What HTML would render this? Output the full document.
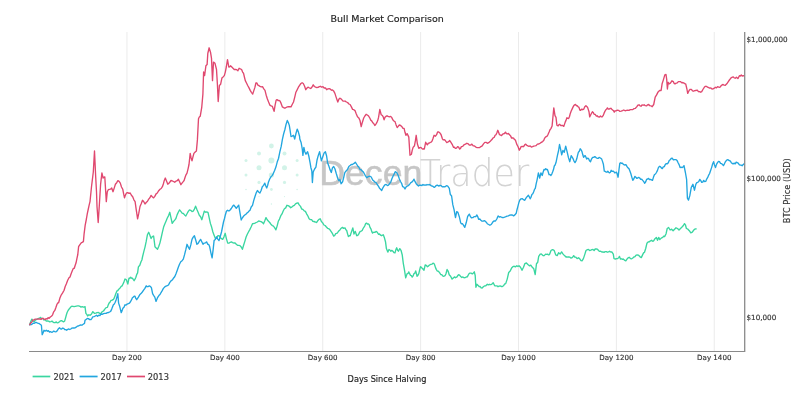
<!DOCTYPE html>
<html><head><meta charset="utf-8"><title>Bull Market Comparison</title>
<style>
html,body{margin:0;padding:0;background:#fff;}
body{width:800px;height:406px;overflow:hidden;}
svg{display:block;filter:blur(0.45px);}
</style></head><body>
<svg width="800" height="406" viewBox="0 0 800 406">
<rect width="800" height="406" fill="#fff"/>
<line x1="126.98" y1="32" x2="126.98" y2="351" stroke="#ebebeb" stroke-width="1"/>
<line x1="224.86" y1="32" x2="224.86" y2="351" stroke="#ebebeb" stroke-width="1"/>
<line x1="322.74" y1="32" x2="322.74" y2="351" stroke="#ebebeb" stroke-width="1"/>
<line x1="420.62" y1="32" x2="420.62" y2="351" stroke="#ebebeb" stroke-width="1"/>
<line x1="518.50" y1="32" x2="518.50" y2="351" stroke="#ebebeb" stroke-width="1"/>
<line x1="616.38" y1="32" x2="616.38" y2="351" stroke="#ebebeb" stroke-width="1"/>
<line x1="714.26" y1="32" x2="714.26" y2="351" stroke="#ebebeb" stroke-width="1"/>
<circle cx="271.4" cy="146" r="2.4" fill="#d2f3e8"/>
<circle cx="259" cy="153.6" r="2.0" fill="#d2f3e8"/>
<circle cx="284.5" cy="153.6" r="2.0" fill="#d2f3e8"/>
<circle cx="246" cy="160.6" r="1.5" fill="#d2f3e8"/>
<circle cx="271.4" cy="160.6" r="3.0" fill="#d2f3e8"/>
<circle cx="297.1" cy="160.6" r="1.5" fill="#d2f3e8"/>
<circle cx="259" cy="167.8" r="2.5" fill="#d2f3e8"/>
<circle cx="284.5" cy="167.8" r="2.5" fill="#d2f3e8"/>
<circle cx="246" cy="175" r="1.5" fill="#d2f3e8"/>
<circle cx="271.4" cy="175" r="2.6" fill="#d2f3e8"/>
<circle cx="297.1" cy="175" r="1.5" fill="#d2f3e8"/>
<circle cx="259" cy="182.4" r="1.6" fill="#d2f3e8"/>
<circle cx="284.5" cy="182.4" r="1.6" fill="#d2f3e8"/>
<circle cx="246" cy="189.5" r="0.8" fill="#d2f3e8"/>
<circle cx="271.4" cy="189.5" r="1.4" fill="#d2f3e8"/>
<circle cx="297.1" cy="189.5" r="0.8" fill="#d2f3e8"/>
<circle cx="259" cy="196.6" r="0.6" fill="#d2f3e8"/>
<circle cx="284.5" cy="196.6" r="0.6" fill="#d2f3e8"/>
<circle cx="271.4" cy="204" r="0.7" fill="#d2f3e8"/>
<text x="319.3" y="184.6" font-family="Liberation Sans, sans-serif" font-size="35" textLength="103" lengthAdjust="spacingAndGlyphs" stroke="#c6c6c6" stroke-width="0.5" fill="#c6c6c6">Decen</text>
<text x="419.8" y="186" font-family="DejaVu Sans, sans-serif" font-weight="200" font-size="37" textLength="109.5" lengthAdjust="spacingAndGlyphs" fill="#d3d3d3">Trader</text>
<polyline points="29.5,325.2 30.7,321.6 31.9,319.1 32.8,321.0 33.6,321.7 34.6,321.4 35.5,319.8 36.5,319.5 37.5,319.0 38.5,318.4 39.5,318.2 40.5,317.4 41.7,318.7 42.8,318.5 44.0,320.0 45.1,319.5 46.3,321.1 47.4,320.9 48.6,321.1 49.7,321.9 50.9,321.7 52.0,321.1 53.0,322.1 54.1,322.7 55.2,322.6 56.3,321.9 57.4,322.9 58.4,322.6 59.5,321.7 60.5,320.8 61.6,320.6 62.6,321.3 63.7,321.8 64.7,320.9 65.6,317.7 66.4,314.8 67.2,312.2 68.1,310.5 69.4,308.7 70.7,307.1 71.8,306.2 73.0,306.3 74.1,306.6 75.3,306.3 76.4,306.1 77.6,305.9 78.7,305.9 79.9,306.3 81.0,307.1 82.2,306.7 83.3,307.0 84.5,307.1 85.0,306.6 85.9,313.4 86.8,314.4 87.6,316.0 88.9,314.8 90.2,315.2 91.5,314.0 92.8,311.7 93.7,312.6 94.5,313.4 95.8,313.2 97.1,312.6 98.4,312.5 99.7,313.4 101.0,313.3 102.2,311.7 103.5,311.0 104.8,309.1 106.1,307.6 107.4,307.4 108.2,305.0 109.1,303.1 110.0,302.2 110.9,300.5 111.8,300.4 112.6,299.7 113.4,299.5 114.3,297.9 115.6,294.3 116.9,291.0 117.8,290.7 118.6,289.3 119.4,288.7 120.3,287.6 121.2,286.4 122.1,285.9 122.9,284.3 123.8,282.4 125.0,279.0 126.4,279.8 127.8,284.1 129.0,278.1 129.8,278.3 130.7,277.2 131.6,278.2 132.4,278.1 133.2,279.4 134.1,280.7 135.0,279.1 135.9,277.2 136.8,274.3 137.6,272.9 138.4,266.9 139.8,265.2 141.0,261.7 141.9,260.0 142.5,257.0 143.8,251.6 145.0,247.1 146.2,241.4 147.4,234.8 148.7,232.3 149.9,235.3 151.1,238.5 152.3,236.7 153.6,236.0 155.0,246.8 156.2,248.1 157.5,249.3 158.7,246.5 159.9,243.1 161.1,238.0 162.4,232.2 163.6,227.1 164.8,223.9 166.1,220.9 167.3,218.0 168.6,215.6 169.8,212.3 171.0,217.9 172.2,223.4 173.4,221.6 174.7,220.1 175.9,218.5 177.1,214.9 178.4,212.0 179.6,209.9 180.8,211.4 182.1,213.1 183.3,213.5 184.6,214.9 185.8,216.0 187.0,213.8 188.3,211.4 189.5,209.9 190.7,210.3 192.0,211.5 193.2,211.1 194.4,209.1 195.6,206.2 196.8,209.3 198.1,212.3 199.3,215.3 200.6,216.8 201.8,219.7 203.1,215.4 204.3,211.1 205.5,212.2 206.8,212.0 208.0,212.3 209.2,217.8 210.4,223.4 211.7,227.3 212.9,232.0 214.1,235.2 215.3,238.2 216.5,238.1 217.8,235.7 219.0,235.7 220.2,237.4 221.5,238.7 222.7,239.4 223.9,237.0 225.2,233.3 226.4,238.6 227.7,243.1 228.9,243.2 230.2,242.3 231.4,241.9 232.6,242.6 233.9,243.0 235.1,243.0 236.3,244.3 237.5,245.3 238.8,245.3 240.0,245.6 241.2,247.0 242.4,249.3 243.6,245.2 244.9,241.1 246.1,237.0 247.3,234.3 248.6,231.8 249.8,229.6 251.2,226.7 252.5,223.7 253.7,223.5 255.0,223.1 256.2,222.5 257.4,222.0 258.7,220.9 259.9,221.3 261.1,221.7 262.3,222.4 263.5,223.7 264.8,220.8 266.0,217.6 267.2,219.8 268.5,221.3 269.7,222.5 270.9,224.2 272.2,225.5 273.4,226.2 274.6,227.7 275.9,229.9 277.1,226.1 278.3,221.3 279.5,219.1 280.8,215.7 282.0,213.9 283.2,211.0 284.4,208.8 285.7,207.9 286.9,205.3 288.1,205.7 289.4,206.3 290.6,207.7 291.8,207.1 293.1,205.9 294.3,205.3 295.5,203.8 296.8,203.1 298.0,202.8 299.2,204.9 300.5,206.4 301.7,209.0 302.9,209.4 304.2,210.9 305.4,211.4 306.6,213.8 307.9,216.0 309.1,218.8 310.3,219.6 311.6,219.7 312.8,221.3 314.0,221.5 315.3,222.0 316.5,222.5 317.7,220.8 319.0,219.4 320.2,218.8 321.4,221.5 322.7,222.9 323.9,225.0 325.1,225.5 326.4,227.0 327.6,228.3 328.8,228.7 330.0,229.8 331.2,231.6 332.5,233.7 333.7,236.1 334.7,235.5 335.7,233.6 336.7,233.4 337.7,232.4 338.7,231.1 339.9,229.9 341.2,228.2 342.4,227.4 343.7,228.4 345.0,227.9 345.9,229.7 346.7,230.5 347.5,233.6 348.4,236.6 349.3,235.7 350.2,235.7 351.6,231.4 352.8,227.9 354.0,234.0 355.3,231.4 356.7,235.7 357.5,235.5 358.4,234.8 359.3,232.9 360.2,231.4 361.2,231.1 362.2,230.5 363.1,228.5 364.0,227.1 364.9,225.6 365.7,223.6 366.5,223.1 367.4,224.0 368.2,223.9 369.1,224.5 370.0,227.4 370.9,228.8 371.8,231.6 372.6,233.1 373.5,232.3 374.3,232.2 375.1,232.4 376.0,231.4 376.9,231.9 377.8,233.1 378.6,234.3 379.5,234.0 380.6,235.2 381.6,235.7 382.5,235.1 383.3,234.8 384.3,237.4 385.5,241.7 386.4,248.6 387.8,252.1 389.0,249.5 389.9,250.0 390.7,251.2 391.8,250.4 392.9,251.2 393.9,252.7 395.0,252.9 395.9,249.6 396.7,247.8 397.5,250.0 398.4,251.2 399.8,248.6 401.0,250.3 402.2,254.7 403.3,263.3 404.5,270.2 405.7,277.9 407.1,273.6 408.0,273.5 408.8,271.9 409.6,273.7 410.5,275.3 411.4,275.7 412.2,277.1 413.1,275.9 414.0,273.6 414.9,273.1 415.7,271.0 417.1,276.2 418.0,275.2 418.8,273.6 419.6,270.2 420.5,266.7 421.4,267.4 422.2,268.4 423.1,269.1 424.0,270.2 425.2,265.0 426.3,265.4 427.4,266.7 428.4,266.1 429.5,265.0 430.8,264.4 432.1,264.1 433.0,263.2 433.8,263.3 434.6,264.8 435.5,267.6 436.4,269.6 437.2,271.0 438.1,271.1 439.0,271.9 439.9,273.2 440.7,274.5 441.5,274.6 442.4,275.3 443.2,276.3 444.1,276.2 445.0,275.7 445.9,274.0 447.1,269.5 448.1,271.0 449.2,274.7 450.6,276.2 452.1,279.1 453.6,277.7 454.6,276.9 455.5,277.7 457.0,276.9 457.9,275.3 458.9,274.7 459.8,275.4 460.7,276.6 461.8,277.5 462.9,276.9 464.0,277.8 465.1,277.7 466.2,277.0 467.3,276.9 468.8,274.0 469.9,273.1 471.0,273.2 471.9,273.7 472.8,273.7 474.3,271.8 475.2,275.5 475.9,287.3 476.9,284.3 478.4,285.8 479.3,286.7 480.2,286.5 481.1,287.9 482.1,288.0 483.6,286.5 484.7,285.9 485.8,285.8 487.3,284.3 488.4,284.9 489.5,284.3 490.6,284.6 491.7,284.3 493.2,282.8 494.7,285.8 495.8,285.8 496.9,285.8 498.0,286.7 499.1,286.1 500.2,285.9 501.3,286.5 502.4,286.5 503.5,285.8 504.6,284.0 505.7,283.6 507.2,279.1 508.7,272.5 510.2,271.0 511.6,268.1 513.1,266.6 514.2,266.2 515.3,266.9 516.8,265.8 517.9,266.5 519.0,265.8 520.5,267.3 522.0,270.3 523.5,267.3 524.9,263.6 526.4,262.9 527.9,264.4 529.4,265.8 530.8,265.1 532.3,267.3 533.8,268.8 535.2,274.5 536.5,263.7 537.7,262.3 538.7,256.4 540.2,254.1 541.3,254.0 542.4,254.9 543.3,255.7 544.2,255.6 545.6,254.1 546.6,254.3 547.6,254.1 548.5,254.9 549.5,254.6 551.0,250.5 552.4,249.7 553.3,249.9 554.2,250.5 555.7,254.9 557.2,255.6 558.6,252.7 560.1,254.1 561.6,251.9 563.1,254.1 564.5,255.6 566.0,257.1 566.9,256.8 567.8,257.1 568.8,256.8 569.7,257.1 570.8,258.0 571.9,257.8 572.8,256.9 573.7,255.6 574.7,257.1 575.6,257.1 577.1,258.6 578.6,257.8 580.1,259.3 581.0,260.7 582.0,260.8 583.4,258.6 584.9,254.1 586.0,250.5 587.4,249.7 588.5,249.5 589.7,250.5 590.8,250.2 591.9,249.7 593.0,249.5 594.1,250.5 595.2,249.0 596.3,249.0 597.4,249.1 598.5,250.5 599.6,251.4 600.7,251.2 601.8,252.0 602.9,251.9 604.0,252.3 605.2,251.6 606.3,251.6 607.4,252.2 608.5,251.9 609.6,251.2 610.7,252.0 611.8,251.9 613.3,254.1 614.0,258.6 615.5,259.0 616.6,258.6 617.7,258.6 618.6,257.6 619.5,256.4 620.4,259.0 621.2,258.7 622.1,259.3 623.2,259.0 624.4,260.1 625.8,260.8 627.2,258.8 628.3,257.7 629.4,257.3 630.5,258.7 631.7,258.8 632.8,258.0 633.9,257.0 635.0,256.7 636.1,255.1 637.2,255.0 638.3,255.1 639.8,256.6 641.3,257.6 642.8,254.4 643.6,252.9 644.5,252.2 645.7,248.5 646.9,243.3 648.4,241.8 649.2,241.9 650.1,241.1 651.6,240.3 652.5,241.2 653.4,241.1 654.9,238.8 656.4,237.4 657.5,240.3 658.7,237.4 659.8,239.6 661.2,238.1 662.7,237.4 663.7,236.2 664.6,236.6 666.1,233.7 667.2,228.5 668.6,227.5 670.1,230.0 671.6,229.2 673.1,230.7 674.6,229.2 676.0,227.8 677.5,228.5 679.0,230.0 680.5,228.5 682.0,227.0 683.4,225.5 684.5,223.6 685.4,224.8 686.4,228.5 687.9,229.2 689.3,230.7 690.8,232.9 692.3,232.2 693.8,230.0 695.3,228.9 696.7,228.9" fill="none" stroke="#3ad6a0" stroke-width="1.35" stroke-linejoin="round"/>
<polyline points="29.5,325.2 30.6,324.0 31.7,324.6 32.8,323.4 34.0,323.4 35.3,322.6 36.5,322.5 37.6,323.1 38.8,323.4 40.1,324.2 41.4,325.2 42.2,334.7 43.1,332.7 44.0,330.3 45.1,331.1 46.3,330.3 47.4,331.2 48.4,330.6 49.5,332.1 50.5,331.6 51.6,332.3 52.6,332.1 53.7,331.1 54.8,331.6 55.8,331.8 56.9,331.2 58.2,329.1 59.5,327.8 60.5,328.9 61.6,329.1 62.6,328.1 63.7,328.4 64.7,329.5 65.7,329.6 66.7,330.2 67.8,329.3 68.8,329.0 69.8,329.5 70.8,329.0 71.9,328.1 72.9,328.0 74.0,328.0 75.0,327.8 76.1,327.2 77.3,326.2 78.4,326.0 79.6,325.3 80.7,325.0 81.9,325.2 83.2,324.2 84.5,323.4 85.0,320.3 86.1,319.4 87.3,318.4 88.4,318.6 89.7,319.6 91.0,319.5 91.9,318.3 92.8,316.9 94.0,316.7 95.3,316.0 96.5,315.2 97.6,316.3 98.8,315.2 99.9,315.5 101.1,314.0 102.2,314.3 103.5,313.6 104.8,313.4 106.1,313.4 107.4,312.6 108.7,312.5 110.0,311.7 110.8,311.1 111.7,309.1 112.6,306.8 113.4,304.8 114.3,304.0 115.2,302.2 116.1,299.9 116.9,297.1 117.8,293.6 118.6,303.1 119.5,305.7 120.3,308.8 121.2,312.6 122.1,310.6 122.9,308.3 124.0,307.2 125.0,304.8 126.1,305.0 127.2,304.0 128.3,303.6 129.5,303.1 130.6,301.5 131.6,299.7 132.4,297.7 133.3,297.1 134.2,296.2 135.0,296.2 135.8,298.4 136.7,299.7 137.6,298.3 138.4,297.1 139.7,294.8 141.0,293.6 142.3,292.0 143.6,290.2 144.9,288.4 146.2,285.9 147.1,286.6 147.9,286.7 148.8,286.1 149.7,285.9 150.6,286.7 151.4,287.6 152.6,293.6 153.6,295.3 154.8,297.1 156.0,301.4 157.4,297.9 158.2,296.6 159.1,295.3 160.0,294.5 160.9,292.8 162.2,290.6 163.4,288.4 165.0,286.7 166.2,286.0 167.3,285.6 168.5,285.0 169.7,282.6 171.0,280.9 172.2,280.0 173.4,278.3 174.7,276.7 175.9,273.9 177.1,270.7 178.4,267.1 179.6,264.0 180.8,261.8 182.1,260.7 183.3,259.1 184.5,254.9 185.8,249.7 187.0,244.3 188.2,246.9 189.5,249.3 190.8,244.9 192.0,239.4 193.2,237.1 194.4,235.7 195.7,240.0 196.9,244.3 198.1,243.4 199.4,241.2 200.6,239.4 201.8,241.8 203.0,244.3 204.2,243.1 205.5,242.8 206.7,241.9 207.7,244.3 208.7,244.4 209.7,246.8 210.9,252.8 212.1,257.9 213.1,249.8 214.1,240.6 215.3,239.4 216.6,236.9 217.8,239.1 219.0,240.6 220.2,236.8 221.5,232.0 222.5,227.0 223.5,222.0 224.5,218.5 225.4,214.7 226.4,211.3 227.6,210.2 228.9,211.0 230.1,210.0 231.3,208.5 232.6,206.3 233.8,205.1 235.1,206.7 236.3,208.3 237.5,206.7 238.7,205.1 239.9,212.3 241.2,220.0 242.4,217.8 243.7,216.0 244.8,215.1 245.9,214.2 247.0,213.0 248.0,212.2 249.0,211.1 250.0,210.2 251.2,207.0 252.5,205.3 253.7,200.6 254.9,196.7 256.1,193.1 257.4,190.5 258.6,191.9 259.9,193.0 261.1,190.5 262.3,186.8 263.6,185.4 264.8,183.1 265.8,186.0 266.7,188.0 267.6,185.5 268.5,181.9 269.7,179.0 270.9,176.9 272.1,175.6 273.4,173.3 274.6,170.5 275.9,167.1 277.2,162.1 278.5,158.5 279.9,151.7 281.2,146.4 282.4,139.4 283.6,134.0 284.9,129.5 286.1,124.2 287.3,120.5 288.3,122.5 289.3,125.4 290.1,130.3 291.0,136.5 292.2,136.1 293.5,135.3 294.7,139.0 295.9,133.8 297.2,129.1 298.4,132.1 299.6,136.5 299.8,139.0 301.1,142.5 302.3,149.2 302.9,155.4 303.9,147.4 304.8,151.7 306.0,154.2 307.6,151.7 308.8,156.0 310.1,162.8 310.9,167.7 311.8,170.8 312.4,182.5 313.2,172.0 314.6,169.0 315.9,167.1 317.1,159.7 318.3,155.4 319.6,151.7 320.4,156.0 321.4,160.9 322.6,157.2 324.1,152.9 325.4,151.7 326.6,156.0 327.6,162.8 328.8,165.9 330.0,169.6 331.3,172.5 332.5,167.7 333.7,166.5 335.0,169.0 336.2,173.3 337.7,178.2 338.9,180.7 339.9,179.4 341.1,183.7 342.6,181.9 343.8,177.0 344.8,172.6 346.3,170.8 347.5,169.6 348.8,166.5 350.4,165.3 351.3,164.4 352.2,164.6 353.1,164.0 354.1,163.4 355.3,162.2 356.5,164.0 358.0,166.5 358.5,166.5 360.0,169.5 361.1,169.7 362.2,171.0 363.4,172.1 364.5,174.0 365.6,176.2 366.7,177.7 367.9,176.9 369.0,176.2 370.1,176.3 371.2,177.0 372.7,180.0 373.9,181.1 375.0,182.2 376.1,182.6 377.2,184.5 378.4,186.2 379.5,188.2 380.6,189.2 381.7,190.5 382.9,187.8 384.0,186.0 385.1,184.6 386.2,184.5 387.4,185.5 388.5,185.2 389.6,183.7 390.7,182.2 391.9,178.7 393.0,176.2 394.1,174.1 395.2,171.7 396.7,172.5 398.2,175.5 399.4,179.0 400.5,181.5 401.6,183.3 402.7,186.7 403.9,187.1 405.0,189.0 406.1,186.9 407.2,186.0 408.4,185.6 409.5,184.5 410.6,182.8 411.7,182.2 412.9,181.0 414.0,179.2 415.1,181.7 416.2,183.7 417.4,184.9 418.5,186.0 419.6,185.2 420.7,185.2 421.9,185.6 423.0,184.5 424.0,185.2 425.0,185.0 426.0,185.2 427.0,184.5 428.0,185.0 429.0,184.5 430.0,184.8 431.0,185.6 432.0,186.0 433.1,186.4 434.3,187.4 435.1,186.8 436.0,185.7 437.3,185.1 438.6,186.0 439.9,185.5 441.2,185.7 442.5,186.9 443.8,186.6 445.1,186.8 446.4,185.7 447.2,185.8 448.1,186.6 449.3,188.3 450.3,194.3 451.6,196.0 452.8,204.7 454.1,209.8 455.5,217.6 456.7,211.6 457.9,212.4 459.3,216.7 460.7,222.8 461.5,223.8 462.4,223.6 463.6,225.3 464.8,227.4 466.2,222.8 467.6,216.7 468.5,215.1 469.3,214.1 470.5,216.7 471.4,217.9 472.2,217.6 473.1,217.5 474.0,216.7 474.9,216.6 475.7,216.7 476.9,215.0 477.8,216.8 478.6,219.3 479.8,219.0 480.9,220.2 482.1,221.2 483.4,221.0 484.7,220.7 486.0,221.9 487.3,223.7 488.6,224.5 489.9,225.2 491.2,224.5 492.0,223.3 492.9,221.9 494.2,220.9 495.5,221.0 496.8,219.0 498.1,215.9 499.4,217.1 500.7,216.7 502.0,217.5 503.3,217.6 504.6,217.2 505.9,216.7 507.1,216.1 508.4,215.9 509.7,215.2 511.0,215.0 512.3,215.0 513.6,215.9 514.9,214.9 516.2,213.3 517.0,209.7 517.9,206.4 518.8,202.9 519.7,200.3 521.0,198.8 522.2,198.6 523.5,199.7 524.8,200.3 525.8,198.4 526.7,197.1 527.5,196.2 528.4,195.3 529.3,196.8 530.2,198.8 531.0,197.2 531.9,194.5 532.8,193.8 533.6,191.9 534.5,189.4 535.3,188.4 536.2,183.6 537.1,179.8 538.4,172.9 539.7,178.1 540.9,172.9 542.2,175.5 543.1,172.2 544.0,169.5 544.9,169.8 545.7,168.6 546.5,169.5 547.4,169.5 548.2,171.8 549.1,174.7 550.0,174.6 550.9,175.5 551.8,174.1 552.6,172.1 553.5,169.6 554.3,166.0 555.1,165.0 556.0,162.6 557.4,155.7 558.6,150.5 559.5,144.5 560.7,149.7 561.7,154.8 562.9,150.5 564.3,152.2 565.7,146.2 567.2,152.2 568.4,157.4 569.8,161.7 571.2,155.7 572.0,156.8 572.9,158.3 574.0,161.1 575.0,162.6 575.9,161.1 576.7,159.1 577.5,155.6 578.4,152.2 579.3,151.3 580.2,148.8 581.0,149.7 581.9,151.4 582.8,154.8 583.6,157.4 584.5,155.9 585.3,155.7 586.7,159.1 587.5,158.2 588.4,158.3 589.5,160.7 590.5,161.7 591.5,159.1 592.6,157.4 593.7,157.4 594.8,156.6 596.0,157.6 597.1,158.3 598.1,158.4 599.1,157.4 600.4,158.0 601.7,159.1 602.5,161.4 603.4,164.3 604.3,171.2 605.1,171.3 606.0,172.1 606.9,172.2 607.8,171.2 608.6,172.2 609.5,172.9 610.4,172.3 611.2,170.3 612.0,171.4 612.9,171.2 613.8,171.5 614.7,172.9 615.5,172.6 616.4,172.1 617.2,174.0 618.1,177.2 619.0,169.5 619.8,163.4 620.7,162.7 621.6,163.4 622.5,163.2 623.3,164.3 624.6,165.0 625.9,164.6 626.9,166.4 627.9,167.8 628.9,168.6 629.8,170.8 630.8,173.5 631.8,177.1 632.8,180.4 633.8,178.9 634.8,176.4 635.8,177.2 636.7,178.4 637.7,178.0 638.7,177.4 639.7,178.0 640.7,179.4 641.7,179.2 642.7,180.4 643.7,181.5 644.6,183.3 645.6,182.0 646.6,179.4 647.6,179.0 648.6,178.4 649.5,179.6 650.5,179.4 651.5,179.8 652.5,180.4 653.5,177.1 654.5,174.5 655.5,174.0 656.4,172.5 657.4,170.6 658.4,167.6 659.4,166.3 660.4,166.6 661.3,167.9 662.3,168.6 663.3,166.9 664.3,166.6 665.3,164.5 666.3,163.6 667.3,163.8 668.3,162.7 669.2,160.5 670.2,159.7 671.2,158.5 672.2,158.1 673.2,159.7 674.2,159.7 675.2,159.6 676.1,159.7 677.1,160.6 678.1,162.7 679.1,164.6 680.1,167.6 681.0,167.2 682.0,167.6 683.0,167.0 684.0,165.6 685.4,172.5 686.6,179.4 687.4,198.1 688.5,200.1 689.9,195.2 691.3,187.3 692.9,184.3 694.5,190.2 695.8,184.3 696.8,182.7 697.8,182.3 698.8,181.5 699.8,179.4 700.8,180.7 701.7,182.3 702.7,182.1 703.7,180.4 704.7,181.6 705.7,181.4 706.7,179.1 707.7,177.4 708.7,175.1 709.6,173.5 710.6,170.5 711.6,167.6 712.6,164.0 713.6,161.7 714.5,164.9 715.5,167.6 716.5,164.4 717.5,162.7 718.5,161.4 719.5,161.7 720.5,163.4 721.4,163.6 722.4,164.3 723.4,165.6 724.4,163.8 725.4,161.7 726.3,160.6 727.3,159.7 728.3,159.9 729.3,160.7 730.3,161.0 731.3,162.7 732.3,163.5 733.2,163.8 734.2,163.2 735.2,163.8 736.2,162.2 737.2,162.7 738.2,163.2 739.2,164.6 740.2,165.1 741.1,165.2 742.1,165.7 743.1,164.6 744.5,163.6" fill="none" stroke="#22a6df" stroke-width="1.35" stroke-linejoin="round"/>
<polyline points="29.5,325.2 30.6,322.9 31.7,322.3 32.8,320.0 33.9,320.2 34.9,319.1 36.0,319.2 37.0,319.1 38.0,318.9 39.0,319.1 40.0,318.8 41.0,319.4 42.0,318.4 43.0,318.3 44.0,319.2 45.0,319.6 46.0,318.7 47.1,319.1 48.1,317.7 49.1,318.3 50.3,317.0 51.4,316.3 52.6,314.8 53.7,311.8 54.8,310.4 55.8,307.7 56.9,304.5 57.8,302.9 58.6,302.8 59.9,298.1 61.2,295.0 62.0,293.8 62.9,292.4 64.1,290.2 65.2,286.5 66.4,283.8 67.7,280.3 69.0,277.8 70.0,276.9 71.3,273.3 72.6,270.0 73.4,268.4 74.3,268.3 75.2,265.3 76.0,263.1 76.9,258.7 77.8,254.5 78.6,246.7 79.4,245.4 80.3,244.1 81.2,242.8 82.1,242.4 83.4,241.6 84.1,233.8 85.2,225.2 86.4,219.0 87.3,213.6 88.3,209.0 89.2,204.9 90.0,201.6 91.5,186.8 92.4,179.3 93.3,172.0 94.5,151.0 95.7,177.0 96.5,191.7 97.0,206.5 98.2,222.5 99.4,204.0 100.6,184.3 101.9,173.0 103.1,178.0 103.9,177.2 104.8,177.0 106.3,201.6 107.3,191.7 108.3,189.7 109.3,189.3 110.5,189.2 111.7,188.0 113.0,191.7 114.2,188.1 115.4,184.3 116.7,182.7 117.9,180.6 119.1,181.3 120.3,183.1 121.5,187.0 122.8,189.3 123.7,194.2 124.5,197.9 125.5,194.8 126.5,193.0 127.7,192.7 129.0,193.4 130.2,193.0 131.4,195.2 132.7,196.7 133.9,199.8 135.1,201.6 136.3,210.1 137.6,218.8 138.8,213.2 140.0,206.5 141.2,203.7 142.5,200.3 143.8,201.8 145.0,204.0 146.2,202.5 147.5,201.3 148.7,199.1 149.9,197.8 151.1,195.4 152.3,196.7 153.6,197.9 154.8,196.4 156.1,193.9 157.3,193.0 158.7,190.7 160.0,189.3 161.2,188.5 162.4,186.7 163.4,183.7 164.3,180.4 165.3,178.0 166.6,181.2 167.8,184.2 168.9,183.3 169.9,182.0 171.0,180.5 172.2,180.9 173.5,181.5 174.7,182.2 175.9,181.2 177.2,180.7 178.4,179.3 179.7,182.0 180.9,184.7 182.0,183.1 183.0,181.9 184.1,180.5 185.1,177.3 186.0,174.8 187.0,173.1 188.0,169.1 189.0,164.5 190.2,153.4 191.1,157.9 192.0,160.8 192.9,157.2 193.9,153.4 195.2,152.0 196.4,150.9 197.4,139.9 198.5,118.7 199.3,117.0 200.2,116.3 201.7,107.7 202.9,94.1 203.6,72.0 204.6,75.6 205.9,65.8 207.1,64.6 207.8,53.5 209.1,47.8 210.5,52.2 211.5,58.4 212.5,80.6 213.5,62.1 215.0,63.3 216.5,69.5 217.4,84.3 218.2,101.5 219.4,85.5 220.6,84.3 221.9,78.1 223.1,76.9 224.3,75.6 225.3,72.1 226.3,67.0 227.5,59.6 228.8,67.0 229.7,66.8 230.5,65.8 231.8,67.1 233.0,68.3 234.2,69.5 235.4,69.5 236.7,69.7 237.9,70.7 239.1,68.3 240.3,68.9 241.6,69.5 242.6,72.1 243.5,73.2 244.4,77.0 245.3,80.6 246.5,83.0 247.7,85.5 248.9,87.6 250.2,90.4 251.4,92.3 252.7,94.1 253.9,90.4 254.9,87.4 255.9,83.0 256.9,83.0 257.8,85.1 258.8,85.5 260.0,86.4 261.3,86.9 262.5,86.7 263.8,88.9 265.0,90.4 266.2,95.2 267.4,99.0 268.6,102.1 269.9,105.2 271.1,105.9 272.4,106.4 273.2,108.8 274.1,111.4 275.1,105.1 276.1,100.3 277.0,99.6 278.0,100.6 278.9,100.5 279.9,100.8 281.1,103.4 282.4,106.9 283.6,107.6 284.9,108.2 286.1,107.5 287.3,106.9 288.5,106.7 289.8,106.7 291.0,106.9 292.2,104.5 293.5,102.0 294.7,97.3 295.9,92.2 297.1,89.9 298.4,87.2 299.6,85.3 300.9,83.5 302.1,82.7 303.3,83.5 304.6,86.2 305.8,89.7 307.1,87.9 308.3,87.2 309.5,88.0 310.7,88.5 311.9,87.2 313.2,84.8 314.4,86.5 315.6,87.2 316.8,87.5 318.1,87.4 319.3,86.7 320.5,86.3 321.8,87.2 323.0,86.7 324.2,88.0 325.5,88.0 326.7,89.7 327.9,88.8 329.2,88.6 330.4,89.2 331.5,90.2 332.5,89.9 333.6,90.9 334.9,93.4 336.1,97.1 337.0,99.7 337.8,102.0 338.6,99.9 339.5,98.3 340.6,98.4 341.6,99.4 342.7,100.8 343.9,101.2 345.2,101.1 346.4,102.0 347.6,102.5 348.9,104.0 350.1,104.5 351.4,106.9 352.6,109.4 353.8,109.7 355.0,110.6 356.2,113.7 357.5,116.8 358.8,117.9 360.0,120.5 361.2,126.7 362.4,122.2 363.7,118.0 364.9,116.0 366.1,114.3 367.3,115.0 368.6,116.1 369.8,118.0 370.7,120.1 371.7,120.9 372.6,122.4 373.7,123.5 374.8,125.5 375.9,124.1 376.9,122.4 377.8,120.3 378.6,117.2 379.8,109.5 381.2,114.7 382.4,115.5 383.2,116.9 384.1,119.8 385.0,117.3 385.9,116.4 387.0,115.8 388.1,116.4 389.4,116.8 390.7,116.4 391.8,117.6 392.8,119.8 393.9,121.0 395.0,121.6 396.1,124.9 397.2,127.6 398.2,126.4 399.3,125.0 400.6,125.4 401.9,126.7 403.0,128.3 404.1,128.4 405.0,132.3 405.9,135.3 407.1,133.6 408.0,135.4 408.8,137.1 410.0,155.2 411.4,154.3 412.2,150.4 413.1,147.4 414.5,145.7 415.4,140.7 416.2,135.3 417.4,144.0 418.8,148.3 419.9,147.7 420.9,147.4 421.8,148.4 422.6,149.1 423.5,148.8 424.3,149.1 425.7,142.2 426.5,143.7 427.4,144.8 428.4,143.2 429.5,143.1 430.4,142.3 431.2,142.2 432.0,141.2 432.9,138.8 434.1,135.3 435.5,136.2 436.6,134.7 437.6,131.9 438.7,132.0 439.8,132.8 441.0,134.5 442.4,138.8 443.2,139.8 444.1,139.7 445.0,140.2 445.9,141.4 446.8,142.5 447.6,142.2 448.6,141.7 449.7,140.5 450.5,141.7 451.4,143.1 452.5,144.9 453.6,147.4 454.5,147.1 455.3,148.3 456.5,148.1 457.6,146.6 458.6,147.1 459.7,149.1 460.5,148.4 461.4,146.6 462.7,146.4 464.0,144.8 465.4,144.2 466.7,143.3 468.0,143.6 469.3,145.0 470.6,145.1 471.9,144.1 473.2,145.8 474.5,145.9 475.8,147.1 477.1,147.6 478.4,147.6 479.7,147.6 480.9,146.6 482.2,145.9 483.5,143.9 484.8,142.4 486.1,142.4 487.4,143.3 488.7,142.7 490.0,141.6 490.9,140.6 491.7,139.8 493.0,138.0 494.3,137.2 495.1,135.3 496.0,134.7 496.9,132.8 497.8,130.3 498.6,132.2 499.5,134.7 500.6,135.1 501.6,135.5 502.5,134.4 503.3,133.8 504.4,133.5 505.5,132.1 506.4,133.6 507.2,133.8 508.4,133.5 509.5,134.7 510.6,135.9 511.6,138.1 512.6,137.8 513.6,138.1 514.5,139.7 515.3,139.8 516.7,144.1 518.1,146.7 519.3,150.2 520.1,148.9 521.0,146.7 522.3,146.4 523.6,146.7 524.7,144.9 525.7,144.1 526.8,145.3 527.9,145.9 529.0,146.4 530.2,145.9 531.4,147.0 532.6,146.7 533.7,146.1 534.8,145.9 536.1,145.6 537.4,144.1 538.7,144.0 540.0,143.3 541.3,142.4 542.6,141.6 543.7,140.6 544.7,138.1 545.8,136.8 546.9,136.4 548.0,134.6 549.1,132.1 550.0,129.7 550.9,128.6 552.1,126.0 552.9,117.4 553.8,107.9 555.0,115.7 556.0,117.4 556.9,125.2 558.1,126.0 559.0,124.6 559.8,124.3 560.8,125.6 561.7,125.5 562.8,125.5 563.8,126.4 565.2,122.1 566.0,120.4 566.9,117.8 567.8,118.4 568.6,118.6 569.5,116.5 570.3,113.4 571.2,111.0 572.1,109.1 573.0,107.1 573.8,105.7 574.6,104.8 575.5,104.5 576.4,105.7 577.2,105.7 578.1,106.7 579.0,107.4 579.8,110.0 580.7,110.3 581.6,109.1 582.7,109.7 583.8,109.1 584.8,106.8 585.9,105.7 586.8,106.6 587.6,107.4 589.0,111.7 589.7,116.9 591.0,114.3 592.4,111.7 593.2,112.4 594.1,114.3 595.2,114.4 596.2,116.0 597.2,115.8 598.3,116.9 599.4,117.0 600.5,116.0 601.4,116.9 602.2,116.9 603.1,115.7 604.0,113.4 604.9,111.4 605.7,110.0 606.5,109.1 607.4,107.9 608.2,109.0 609.1,109.1 610.0,108.5 610.9,108.3 611.8,109.3 612.6,110.0 613.5,110.6 614.3,112.1 615.1,110.8 616.0,110.9 617.3,110.2 618.6,110.3 619.9,111.4 621.2,111.2 622.5,110.7 623.8,110.0 625.1,110.8 626.4,110.3 627.7,110.2 629.0,110.3 630.3,109.6 631.6,109.7 632.9,109.6 634.1,108.6 635.4,108.3 636.7,106.9 637.9,105.1 639.0,104.8 640.0,105.8 641.0,106.2 642.0,105.0 643.1,105.2 644.2,104.8 645.3,105.7 646.5,105.9 647.6,104.8 648.7,104.5 649.7,105.7 651.0,105.8 652.2,106.7 653.7,104.5 655.2,97.1 656.6,94.9 658.1,91.9 659.6,90.5 661.1,90.5 662.1,83.8 663.3,80.1 664.8,74.9 666.0,74.5 666.7,79.4 667.4,89.0 668.2,82.3 669.2,83.8 670.4,83.1 671.9,80.8 673.3,81.6 674.2,83.5 675.1,83.8 676.2,83.2 677.3,82.8 678.4,81.6 679.5,81.6 680.6,81.7 681.8,82.8 682.9,82.5 684.0,83.1 684.9,83.8 685.7,83.8 686.9,89.0 687.7,93.4 689.1,90.5 690.2,89.3 691.4,89.3 692.5,90.9 693.6,91.2 694.7,90.7 695.8,90.5 697.3,90.2 698.4,91.7 699.5,91.6 700.6,92.3 701.7,91.6 703.2,89.0 704.3,87.3 705.4,86.3 706.5,86.4 707.6,87.2 708.7,87.7 709.8,88.2 710.9,88.0 712.0,89.0 713.1,88.8 714.3,88.2 715.4,87.3 716.5,87.8 717.6,86.7 718.7,87.2 719.8,87.4 720.9,86.0 722.0,84.9 723.1,84.5 724.2,85.1 725.3,85.3 726.8,83.8 728.3,81.6 729.4,80.0 730.5,78.6 731.5,77.6 732.4,77.2 733.3,76.9 734.2,77.9 735.3,78.2 736.4,77.2 737.9,78.6 739.4,75.7 740.3,76.1 741.3,74.9 742.2,76.1 743.1,75.7 744.5,76.0" fill="none" stroke="#e0486f" stroke-width="1.35" stroke-linejoin="round"/>
<line x1="29" y1="351.5" x2="745" y2="351.5" stroke="#8a8a8a" stroke-width="1"/>
<line x1="744.7" y1="32" x2="744.7" y2="352" stroke="#8a8a8a" stroke-width="1.3"/>
<text x="126.98" y="359.8" text-anchor="middle" font-family='"DejaVu Sans","Liberation Sans",sans-serif' font-size="7.1" fill="#333" stroke="#333" stroke-width="0.15">Day 200</text>
<text x="224.86" y="359.8" text-anchor="middle" font-family='"DejaVu Sans","Liberation Sans",sans-serif' font-size="7.1" fill="#333" stroke="#333" stroke-width="0.15">Day 400</text>
<text x="322.74" y="359.8" text-anchor="middle" font-family='"DejaVu Sans","Liberation Sans",sans-serif' font-size="7.1" fill="#333" stroke="#333" stroke-width="0.15">Day 600</text>
<text x="420.62" y="359.8" text-anchor="middle" font-family='"DejaVu Sans","Liberation Sans",sans-serif' font-size="7.1" fill="#333" stroke="#333" stroke-width="0.15">Day 800</text>
<text x="518.50" y="359.8" text-anchor="middle" font-family='"DejaVu Sans","Liberation Sans",sans-serif' font-size="7.1" fill="#333" stroke="#333" stroke-width="0.15">Day 1000</text>
<text x="616.38" y="359.8" text-anchor="middle" font-family='"DejaVu Sans","Liberation Sans",sans-serif' font-size="7.1" fill="#333" stroke="#333" stroke-width="0.15">Day 1200</text>
<text x="714.26" y="359.8" text-anchor="middle" font-family='"DejaVu Sans","Liberation Sans",sans-serif' font-size="7.1" fill="#333" stroke="#333" stroke-width="0.15">Day 1400</text>
<text x="746.5" y="42" font-family='"DejaVu Sans","Liberation Sans",sans-serif' font-size="7.2" fill="#333" stroke="#333" stroke-width="0.15">$1,000,000</text>
<text x="746.5" y="181.2" font-family='"DejaVu Sans","Liberation Sans",sans-serif' font-size="7.2" fill="#333" stroke="#333" stroke-width="0.15">$100,000</text>
<text x="746.5" y="320.4" font-family='"DejaVu Sans","Liberation Sans",sans-serif' font-size="7.2" fill="#333" stroke="#333" stroke-width="0.15">$10,000</text>
<text transform="translate(790.3,190.7) rotate(-90)" text-anchor="middle" font-family='"DejaVu Sans","Liberation Sans",sans-serif' font-size="8.2" fill="#333" stroke="#333" stroke-width="0.15">BTC Price (USD)</text>
<text x="387.2" y="22.2" text-anchor="middle" font-family='"DejaVu Sans","Liberation Sans",sans-serif' font-size="9.5" fill="#222" stroke="#222" stroke-width="0.15">Bull Market Comparison</text>
<text x="387" y="382" text-anchor="middle" font-family='"DejaVu Sans","Liberation Sans",sans-serif' font-size="8.2" fill="#222" stroke="#222" stroke-width="0.15">Days Since Halving</text>
<line x1="32.6" y1="376.5" x2="50.3" y2="376.5" stroke="#3ad6a0" stroke-width="1.7"/>
<text x="53.4" y="380" font-family='"DejaVu Sans","Liberation Sans",sans-serif' font-size="8.3" fill="#333" stroke="#333" stroke-width="0.15">2021</text>
<line x1="79.6" y1="376.5" x2="97.6" y2="376.5" stroke="#22a6df" stroke-width="1.7"/>
<text x="100.6" y="380" font-family='"DejaVu Sans","Liberation Sans",sans-serif' font-size="8.3" fill="#333" stroke="#333" stroke-width="0.15">2017</text>
<line x1="127" y1="376.5" x2="145" y2="376.5" stroke="#e0486f" stroke-width="1.7"/>
<text x="147.8" y="380" font-family='"DejaVu Sans","Liberation Sans",sans-serif' font-size="8.3" fill="#333" stroke="#333" stroke-width="0.15">2013</text>
</svg>
</body></html>
